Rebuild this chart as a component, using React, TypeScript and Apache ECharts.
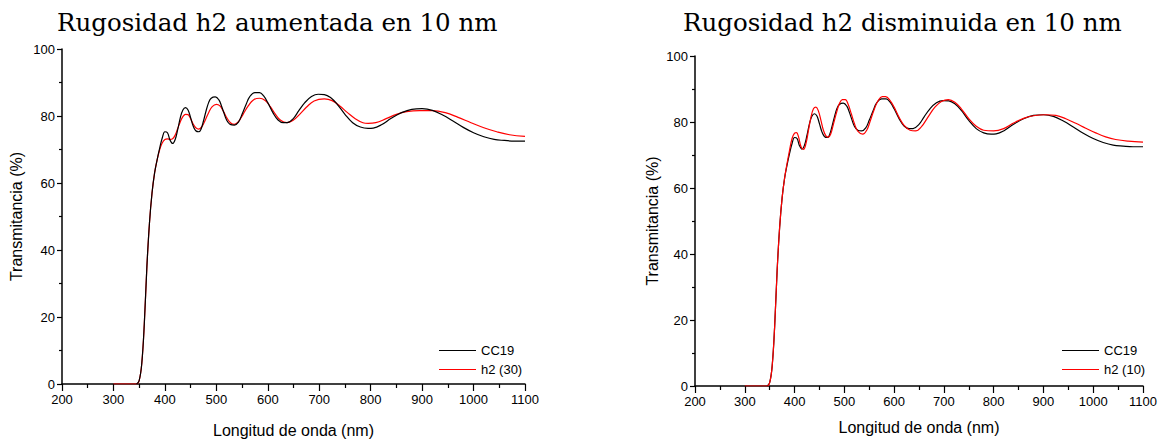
import React, { useEffect, useRef } from "react";
import * as echarts from "echarts";

const titles = ["Rugosidad h2 aumentada en 10 nm", "Rugosidad h2 disminuida en 10 nm"];
const seriesNames = ["CC19", "h2 (30)", "h2 (10)"];
const xName = "Longitud de onda (nm)";
const yName = "Transmitancia (%)";

// CC19 measured transmittance [nm, %]
const cc19: number[][] = [
  [345, 0], [350, 1], [355, 6], [360, 18], [365, 35], [370, 48], [375, 57], [380, 63], [385, 67],
  [390, 70.5], [395, 73.5], [400, 75.3], [405, 75], [410, 72.8], [415, 71.8], [420, 73], [425, 76],
  [430, 79.5], [435, 81.8], [440, 82.5], [445, 81.8], [450, 79.5], [455, 77], [460, 75.6], [466, 75.3],
  [470, 76], [475, 78.5], [480, 81.5], [485, 84], [490, 85.3], [498, 85.7], [505, 84.8], [510, 83],
  [515, 80.8], [520, 78.8], [527, 77.5], [535, 77.3], [543, 78.2], [550, 80.5], [558, 83.5], [565, 85.8],
  [575, 87], [584, 87], [592, 86], [600, 84], [610, 81], [620, 78.8], [630, 78], [638, 78], [650, 79.3],
  [660, 81.5], [672, 84], [685, 85.8], [698, 86.5], [710, 86.4], [722, 85.5], [735, 83.5], [750, 80.5],
  [765, 78], [780, 76.7], [795, 76.3], [805, 76.4], [820, 77.3], [840, 79.3], [860, 81], [880, 82],
  [900, 82.2], [920, 81.7], [940, 80.3], [960, 78.5], [980, 76.6], [1000, 75], [1020, 73.8], [1040, 73],
  [1060, 72.7], [1080, 72.5], [1100, 72.5],
];

// h2 roughness +10 nm (30)
const h2plus: number[][] = [
  [300, 0], [345, 0], [350, 1], [355, 6], [360, 18], [365, 35], [370, 48], [375, 57], [380, 63], [385, 67],
  [390, 70], [395, 72], [400, 73], [405, 73.2], [410, 73], [415, 73.2], [420, 74.3], [425, 76.3],
  [430, 78.3], [435, 79.8], [440, 80.5], [445, 80.4], [450, 79.2], [455, 77.6], [460, 76.5], [466, 76.1],
  [472, 76.8], [478, 78.6], [485, 81], [492, 82.8], [500, 83.5], [507, 83], [514, 81.3], [521, 79.3],
  [528, 77.9], [535, 77.5], [543, 78.3], [552, 80.5], [562, 83], [572, 84.8], [584, 85.3], [595, 84.6],
  [605, 82.8], [615, 80.5], [625, 78.7], [637, 78], [650, 78.8], [662, 80.5], [675, 82.6], [690, 84.5],
  [710, 85.1], [725, 84.6], [740, 83], [755, 81], [770, 79.2], [785, 78], [795, 77.8], [810, 78],
  [830, 79.2], [850, 80.5], [870, 81.3], [895, 81.6], [920, 81.6], [945, 81], [970, 79.6], [995, 78],
  [1020, 76.5], [1045, 75.3], [1070, 74.4], [1100, 73.9],
];

// h2 roughness -10 nm (10)
const h2minus: number[][] = [
  [300, 0], [345, 0], [350, 1], [355, 6], [360, 18], [365, 35], [370, 48], [375, 57], [380, 63], [385, 67.5],
  [390, 71.5], [395, 75], [400, 76.6], [404, 76.8], [408, 75.5], [413, 72.5], [418, 71.7], [423, 73.5],
  [428, 77.5], [433, 81.5], [438, 84], [443, 84.5], [448, 83.3], [453, 80.5], [458, 77.5], [463, 75.8],
  [468, 75.4], [473, 76.5], [478, 79.3], [484, 82.7], [490, 85.5], [496, 86.8], [502, 86.8], [508, 85.2],
  [514, 82.5], [520, 79.6], [527, 77.2], [537, 76.3], [545, 77.5], [552, 80.3], [560, 83.8], [568, 86.5],
  [576, 87.7], [583, 87.7], [592, 86.5], [600, 84.5], [610, 81.4], [620, 79], [632, 77.5], [643, 77.3],
  [655, 78.6], [668, 81.5], [682, 84.5], [695, 86.2], [709, 86.8], [722, 86], [735, 84], [750, 81],
  [765, 78.7], [780, 77.5], [800, 77.3], [820, 78], [840, 79.7], [860, 81.1], [880, 81.9], [905, 82.2],
  [925, 82], [945, 81], [965, 79.6], [985, 78.1], [1005, 76.7], [1025, 75.5], [1045, 74.7], [1070, 74.2],
  [1100, 73.9],
];

const SANS = "Liberation Sans, Arial, sans-serif";
const SERIF = "DejaVu Serif, serif";

function xAxis(gridIndex: number, nameGap: number) {
  return {
    type: "value",
    gridIndex,
    min: 200,
    max: 1100,
    interval: 100,
    name: xName,
    nameLocation: "middle",
    nameGap,
    nameTextStyle: { color: "#000", fontSize: 16, fontFamily: SANS },
    axisLine: { show: true, onZero: false, lineStyle: { color: "#000", width: 1.5 } },
    axisTick: { show: true, inside: false, length: 7, lineStyle: { color: "#000", width: 1.2 } },
    minorTick: { show: true, splitNumber: 2, length: 4, lineStyle: { color: "#000", width: 1.2 } },
    splitLine: { show: false },
    axisLabel: {
      color: "#000",
      fontSize: 13,
      fontFamily: SANS,
      margin: 9,
      formatter: (v: number) => String(v),
    },
  };
}

function yAxis(gridIndex: number, nameGap: number) {
  return {
    type: "value",
    gridIndex,
    min: 0,
    max: 100,
    interval: 20,
    name: yName,
    nameLocation: "middle",
    nameGap,
    nameRotate: 90,
    nameTextStyle: { color: "#000", fontSize: 16, fontFamily: SANS },
    axisLine: { show: true, onZero: false, lineStyle: { color: "#000", width: 1.5 } },
    axisTick: { show: true, inside: false, length: 5, lineStyle: { color: "#000", width: 1.2 } },
    minorTick: { show: true, splitNumber: 2, length: 3, lineStyle: { color: "#000", width: 1.2 } },
    splitLine: { show: false },
    axisLabel: { color: "#000", fontSize: 13, fontFamily: SANS, margin: 7 },
  };
}

function line(name: string, data: number[][], color: string, idx: number, z: number) {
  return {
    type: "line",
    name,
    data,
    xAxisIndex: idx,
    yAxisIndex: idx,
    showSymbol: false,
    smooth: 0.4,
    z,
    lineStyle: { color, width: 1.2 },
    itemStyle: { color },
  };
}

function legend(names: string[], left: number) {
  return {
    data: names,
    orient: "vertical",
    left,
    top: 344,
    padding: 0,
    icon: "rect",
    itemWidth: 37,
    itemHeight: 1.2,
    itemGap: 6,
    textStyle: { color: "#000", fontSize: 13, fontFamily: SANS, padding: [0, 0, 0, 0] },
  };
}

export default function App() {
  const ref = useRef<HTMLDivElement>(null);
  useEffect(() => {
    if (!ref.current) return;
    const chart = echarts.init(ref.current, null, { renderer: "svg" });
    chart.setOption({
      animation: false,
      backgroundColor: "#fff",
      title: [
        {
          text: titles[0],
          left: 57,
          top: 10,
          padding: 0,
          textStyle: { fontFamily: SERIF, fontSize: 24.5, fontWeight: "normal", color: "#000" },
        },
        {
          text: titles[1],
          left: 683,
          top: 10,
          padding: 0,
          textStyle: { fontFamily: SERIF, fontSize: 24.5, fontWeight: "normal", color: "#000" },
        },
      ],
      grid: [
        { left: 62, top: 49, width: 463, height: 342 },
        { left: 695, top: 56, width: 448, height: 330 },
      ],
      xAxis: [xAxis(0, 38), xAxis(1, 33)],
      yAxis: [yAxis(0, 38), yAxis(1, 35)],
      legend: [legend([seriesNames[0], seriesNames[1]], 439), legend([seriesNames[0], seriesNames[2]], 1062)],
      series: [
        line(seriesNames[1], h2plus, "#ff0000", 0, 2),
        line(seriesNames[0], cc19, "#000000", 0, 3),
        line(seriesNames[0], cc19, "#000000", 1, 2),
        line(seriesNames[2], h2minus, "#ff0000", 1, 3),
      ],
    });
    return () => chart.dispose();
  }, []);
  return <div ref={ref} style={{ position: "absolute", left: 0, top: 0, width: 1164, height: 443 }} />;
}
